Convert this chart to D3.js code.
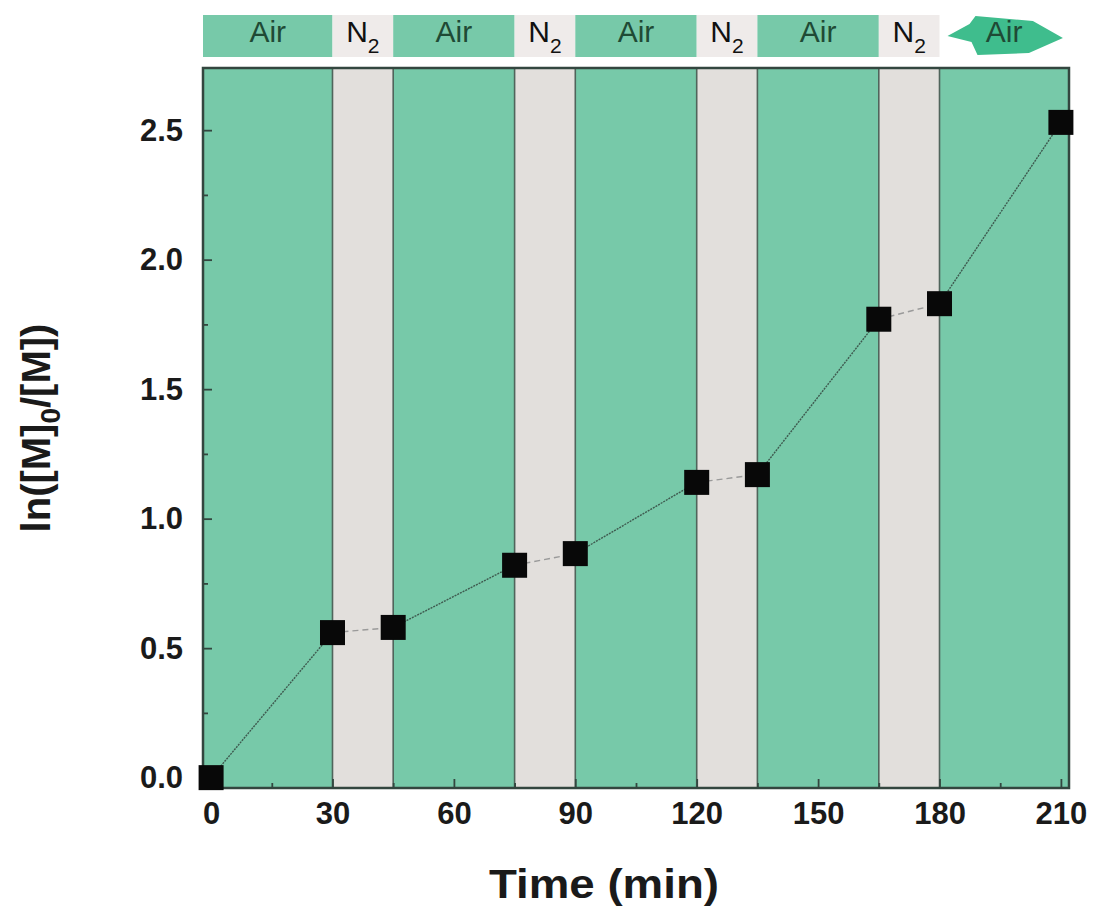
<!DOCTYPE html>
<html>
<head>
<meta charset="utf-8">
<script src="https://cdn.jsdelivr.net/npm/d3@7"></script>
<style>
  body { margin: 0; background: #fff; }
  svg { font-family: "Liberation Sans", Arial, sans-serif; }
</style>
</head>
<body>
<div id="chart"></div>
<script>
// data
const times = [0, 30, 45, 75, 90, 120, 135, 165, 180, 210];
const values = [0.0, 0.56, 0.58, 0.82, 0.865, 1.14, 1.17, 1.77, 1.83, 2.53];
const phaseStarts = [0, 30, 45, 75, 90, 120, 135, 165, 180];
const phaseEnds = [30, 45, 75, 90, 120, 135, 165, 180, 210];
const phaseGas = ['Air', 'N2', 'Air', 'N2', 'Air', 'N2', 'Air', 'N2', 'Air'];
const xTicks = [0, 30, 60, 90, 120, 150, 180, 210];
const yTicks = [0.0, 0.5, 1.0, 1.5, 2.0, 2.5];

const width = 1101, height = 911;
const margin = { top: 68, right: 32, bottom: 123, left: 203 };

const svg = d3.select('#chart').append('svg')
    .attr('width', width)
    .attr('height', height);

const x = d3.scaleLinear().domain([-2, 212]).range([margin.left, width - margin.right]);
const y = d3.scaleLinear().domain([-0.04, 2.74]).range([height - margin.bottom, margin.top]);

const airColor = '#77c9a9';
const n2Color = '#e2dfdc';
const lineColor = '#3e5a4f';

const phases = phaseGas.map((g, i) => ({ gas: g, start: phaseStarts[i], end: phaseEnds[i] }));
const left = v => v === 0 ? x(-2) : x(v);
const right = v => v === 210 ? x(212) : x(v);

// background bands
svg.selectAll('.band')
    .data(phases)
    .enter().append('rect')
    .attr('class', 'band')
    .attr('x', d => left(d.start))
    .attr('y', y(2.74))
    .attr('width', d => right(d.end) - left(d.start))
    .attr('height', y(-0.04) - y(2.74))
    .attr('fill', d => d.gas === 'Air' ? airColor : n2Color);

// band boundaries
svg.selectAll('.bound')
    .data(phaseStarts.slice(1))
    .enter().append('line')
    .attr('x1', d => x(d)).attr('x2', d => x(d))
    .attr('y1', y(2.74)).attr('y2', y(-0.04))
    .attr('stroke', '#50645b')
    .attr('stroke-width', 1.6);

// frame
svg.append('rect')
    .attr('x', x(-2)).attr('y', y(2.74))
    .attr('width', x(212) - x(-2))
    .attr('height', y(-0.04) - y(2.74))
    .attr('fill', 'none')
    .attr('stroke', '#33463f')
    .attr('stroke-width', 2.5);

// axes with inward ticks
const xAxis = d3.axisBottom(x).tickValues(xTicks).tickSize(-9).tickPadding(14).tickFormat(d3.format('d'));
const gx = svg.append('g').attr('transform', `translate(0,${y(-0.04)})`).call(xAxis);
const xMinor = d3.axisBottom(x).tickValues(d3.range(15, 210, 30)).tickSize(-5).tickFormat('');
svg.append('g').attr('transform', `translate(0,${y(-0.04)})`).call(xMinor);

const yAxis = d3.axisLeft(y).tickValues(yTicks).tickSize(-9).tickPadding(20).tickFormat(d3.format('.1f'));
const gy = svg.append('g').attr('transform', `translate(${x(-2)},0)`).call(yAxis);
const yMinor = d3.axisLeft(y).tickValues([0.25, 0.75, 1.25, 1.75, 2.25]).tickSize(-5).tickFormat('');
svg.append('g').attr('transform', `translate(${x(-2)},0)`).call(yMinor);

svg.selectAll('.domain').remove();
svg.selectAll('.tick line').attr('stroke', '#33463f').attr('stroke-width', 1.8);
svg.selectAll('.tick text')
    .attr('fill', '#1a1a1a')
    .style('font-size', '31px')
    .style('font-weight', 'bold');
gx.selectAll('.tick text').attr('dy', '0.72em');

// line segments
const segs = [];
for (let i = 0; i < times.length - 1; i++) {
    const inN2 = phases.find(p => p.start === times[i]).gas === 'N2';
    segs.push({ x1: times[i], y1: values[i], x2: times[i + 1], y2: values[i + 1], n2: inN2 });
}
svg.selectAll('.seg')
    .data(segs)
    .enter().append('line')
    .attr('x1', d => x(d.x1)).attr('y1', d => y(d.y1))
    .attr('x2', d => x(d.x2)).attr('y2', d => y(d.y2))
    .attr('stroke', d => d.n2 ? '#9a9a9a' : lineColor)
    .attr('stroke-width', 1.4)
    .attr('stroke-dasharray', d => d.n2 ? '6,4' : '2,1');

// square markers
const sq = 25;
svg.selectAll('.pt')
    .data(times.map((t, i) => ({ t, v: values[i] })))
    .enter().append('rect')
    .attr('x', d => x(d.t) - sq / 2)
    .attr('y', d => y(d.v) - sq / 2)
    .attr('width', sq).attr('height', sq)
    .attr('fill', '#080808');

// top strip of gas labels
const stripTop = 15, stripH = 42;
const strip = svg.append('g');
phases.forEach((p, i) => {
    const x0 = left(p.start);
    const x1 = x(p.end);
    const last = i === phases.length - 1;
    if (p.gas === 'Air' && !last) {
        strip.append('rect')
            .attr('x', x0).attr('y', stripTop)
            .attr('width', x1 - x0).attr('height', stripH)
            .attr('fill', airColor);
    } else if (p.gas === 'N2') {
        strip.append('rect')
            .attr('x', x0).attr('y', stripTop)
            .attr('width', x1 - x0).attr('height', stripH)
            .attr('fill', '#efebea');
    } else {
        // arrow for the last Air phase
        const ax = x0 + 8, bx = x1 + 2;
        const cy = stripTop + stripH / 2;
        strip.append('path')
            .attr('d', `M${ax},${cy} L${ax + 22},${cy - 12} L${ax + 28},${stripTop + 1} L${bx - 30},${stripTop + 6} L${bx},${cy + 2} L${bx - 34},${stripTop + stripH - 4} L${ax + 30},${stripTop + stripH - 2} L${ax + 24},${cy + 6} Z`)
            .attr('fill', '#3fbd8d');
    }
    const t = strip.append('text')
        .attr('x', (x0 + x1) / 2 + (last ? 4 : 0))
        .attr('y', stripTop + 27)
        .attr('text-anchor', 'middle')
        .style('font-size', '30px');
    if (p.gas === 'Air') {
        t.attr('fill', '#1f4a35').text('Air');
    } else {
        t.attr('fill', '#111');
        t.append('tspan').text('N');
        t.append('tspan').attr('dy', 11).style('font-size', '21px').text('2');
    }
});

// axis titles
svg.append('text')
    .attr('x', 604).attr('y', 898)
    .attr('text-anchor', 'middle')
    .attr('textLength', 230)
    .attr('lengthAdjust', 'spacingAndGlyphs')
    .style('font-size', '40px').style('font-weight', 'bold')
    .attr('fill', '#1a1a1a')
    .text('Time (min)');

const yl = svg.append('text')
    .attr('transform', `translate(50,428) rotate(-90)`)
    .attr('text-anchor', 'middle')
    .style('font-size', '40px').style('font-weight', 'bold')
    .attr('fill', '#1a1a1a');
yl.append('tspan').text('ln([M]');
yl.append('tspan').attr('dy', 10).style('font-size', '28px').text('0');
yl.append('tspan').attr('dy', -10).text('/[M])');
</script>
</body>
</html>
